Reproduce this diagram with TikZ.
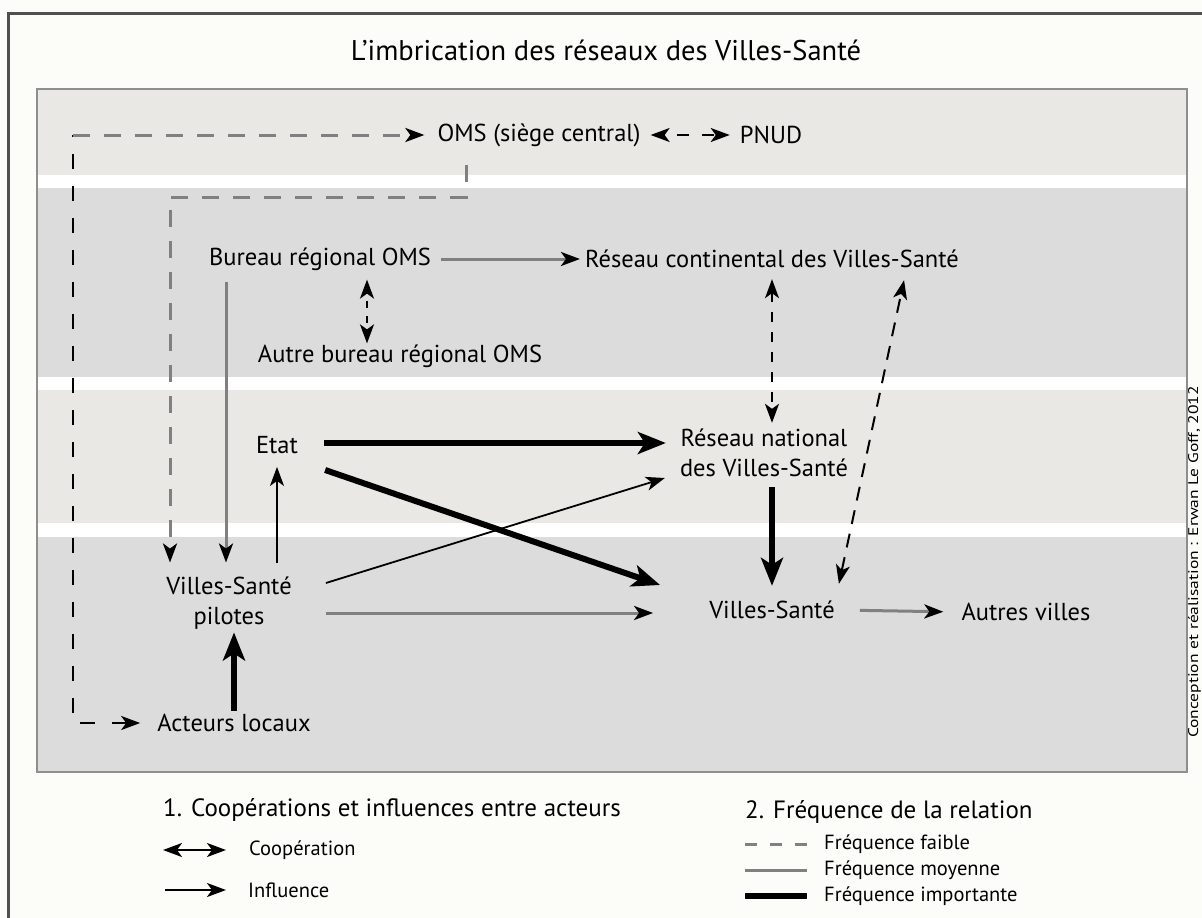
\documentclass[tikz,border=0pt]{standalone}
\usepackage{fontspec}
\setmainfont{PT Sans}
\usetikzlibrary{arrows.meta,calc}
\definecolor{paper}{HTML}{FCFCF9}
\definecolor{bandlight}{HTML}{EAE8E5}
\definecolor{banddark}{HTML}{DCDCDC}
\definecolor{linegrey}{HTML}{808080}
\definecolor{framegrey}{HTML}{505050}
\definecolor{panelgrey}{HTML}{8E8E8E}
\tikzset{
  vtip/.tip={Stealth[length=19pt,width=14pt,inset=5pt,color=black]},
  bigtip/.tip={Stealth[length=28pt,width=22pt,inset=7pt,color=black]},
  actor/.style={inner sep=3pt, align=center, font=\fontsize{24.5}{30}\selectfont},
  legendhead/.style={inner sep=0pt, anchor=west, font=\fontsize{25}{28}\selectfont},
  legendtext/.style={inner sep=0pt, anchor=west, font=\fontsize{20.5}{23}\selectfont},
  faible/.style={linegrey, line width=3pt, dash pattern=on 17pt off 14pt},
  faiblenoir/.style={black, line width=2.5pt, dash pattern=on 15pt off 17pt},
  coop/.style={black, line width=2pt, dash pattern=on 10pt off 10pt},
  moyenne/.style={linegrey, line width=3pt},
  influence/.style={black, line width=1.8pt},
  importante/.style={black, line width=6pt}
}
\begin{document}
\begin{tikzpicture}[x=1pt,y=-1pt]
\useasboundingbox (0,0) rectangle (1202,918);
\fill[paper] (0,0) rectangle (1202,918);
\draw[framegrey, line width=3pt] (8,930) -- (8,13) -- (1215,13);
% bands
\fill[bandlight] (37,89) rectangle (1187,175);
\fill[white] (37,175) rectangle (1187,188);
\fill[banddark] (37,188) rectangle (1187,377);
\fill[white] (37,377) rectangle (1187,390);
\fill[bandlight] (37,390) rectangle (1187,523);
\fill[white] (37,523) rectangle (1187,537);
\fill[banddark] (37,537) rectangle (1187,772);
\draw[panelgrey, line width=2.5pt] (37,89) rectangle (1187,772);
\node[font=\fontsize{28.5}{32}\selectfont] (title) at (606,50) {L’imbrication des réseaux des Villes-Santé};
% actors
\node[actor] (oms) at (539,135) {OMS (siège central)};
\node[actor] (pnud) at (771,135) {PNUD};
\node[actor] (bureau) at (320,259) {Bureau régional OMS};
\node[actor] (continental) at (772,259) {Réseau continental des Villes-Santé};
\node[actor] (autre) at (400,356) {Autre bureau régional OMS};
\node[actor] (etat) at (277,445) {Etat};
\node[actor] (national) at (764,453) {Réseau national\\des Villes-Santé};
\node[actor] (pilotes) at (229,603) {Villes-Santé\\pilotes};
\node[actor] (villes) at (772,610) {Villes-Santé};
\node[actor] (autres) at (1026,612) {Autres villes};
\node[actor] (acteurs) at (234,723) {Acteurs locaux};
% dashed routes round the left
\coordinate (lcorner) at (73,135);
\draw[faiblenoir, {vtip}-, shorten <=14pt] (acteurs.west) -| (lcorner);
\draw[faible, -{vtip}, shorten >=10pt] (lcorner) -- (oms.west);
\coordinate (ocorner) at (170,197);
\coordinate (ostart) at ($(oms.south)+(-73,15)$);
\draw[faible, -{vtip}, shorten >=11pt] (ostart) |- (ocorner) -- (ocorner |- pilotes.north);
\draw[coop, {vtip}-{vtip}, shorten <=7pt, shorten >=7pt, dash pattern=on 12pt off 13pt, dash phase=12pt] (oms.east) -- (pnud.west);
% links
\draw[moyenne, -{vtip}, shorten <=7pt, shorten >=2pt] (bureau.east) -- (continental.west);
\draw[coop, {vtip}-{vtip}, dash pattern=on 7pt off 8pt, dash phase=7pt, shorten <=6pt, shorten >=-2pt] ($(bureau.south)+(47,0)$) -- ($(autre.north)+(-33,0)$);
\draw[moyenne, -{vtip}, shorten <=8pt, shorten >=11pt] ($(bureau.south -| pilotes.north)+(-3,0)$) -- ($(pilotes.north)+(-3,0)$);
\draw[influence, -{vtip}, shorten <=11pt, shorten >=10pt] (pilotes.north -| etat.south) -- (etat.south);
\draw[importante, -{bigtip}, shorten <=23pt, shorten >=11pt] ($(etat.east)+(0,-2)$) -- ($(etat.east -| national.west)+(0,-2)$);
\draw[importante, -{bigtip}] ($(etat.east)+(24,25)$) -- ($(villes.west)+(-46,-25)$);
\draw[influence, -{vtip}] ($(pilotes.east)+(31,-20)$) -- ($(national.west)+(-12,25)$);
\draw[moyenne, -{vtip}] ($(pilotes.east)+(31,10)$) -- ($(villes.west)+(-53,3)$);
\draw[importante, -{bigtip}, shorten <=7pt, shorten >=12pt] (national.south -| villes.north) -- (villes.north);
\draw[coop, {vtip}-{vtip}, shorten <=8pt, shorten >=3pt] (continental.south -| villes.north) -- (national.north -| villes.north);
\draw[coop, {vtip}-{vtip}, dash pattern=on 14pt off 10pt] ($(villes.north east)+(1,-14)$) -- ($(continental.south east)+(-58,9)$);
\draw[moyenne, -{vtip}, shorten <=22pt, shorten >=15pt] (villes.east) -- (autres.west);
\draw[importante, -{bigtip}] (acteurs.north) -- (acteurs.north |- pilotes.south);
% legend
\node[legendhead] (leg1) at (163,810) {1. Coopérations et influences entre acteurs};
\node[legendtext] (coopl) at (249,850) {Coopération};
\node[legendtext] (inflt) at (248,890) {Influence};
\coordinate (c1a) at (163,850); \coordinate (c1b) at (226,850);
\coordinate (c2a) at (165,890); \coordinate (c2b) at (226,890);
\draw[influence, {vtip}-{vtip}] (c1a) -- (c1b);
\draw[influence, -{vtip}] (c2a) -- (c2b);
\node[legendhead] (leg2) at (745,812) {2. Fréquence de la relation};
\node[legendtext] (faiblet) at (824,844) {Fréquence faible};
\node[legendtext] (moyent) at (824,870) {Fréquence moyenne};
\node[legendtext] (impt) at (824,896) {Fréquence importante};
\coordinate (f1a) at (745,844); \coordinate (f1b) at (807,844);
\coordinate (f2a) at (745,870); \coordinate (f2b) at (807,870);
\coordinate (f3a) at (745,896); \coordinate (f3b) at (807,896);
\draw[faible, dash pattern=on 12pt off 13pt] (f1a) -- (f1b);
\draw[moyenne] (f2a) -- (f2b);
\draw[importante] (f3a) -- (f3b);
\node[rotate=90, anchor=base, inner sep=0pt, font=\fontsize{14}{16}\selectfont] (credit) at (1198,562) {\scalebox{1.25}[1]{Conception et réalisation : Erwan Le Goff, 2012}};
\end{tikzpicture}
\end{document}
